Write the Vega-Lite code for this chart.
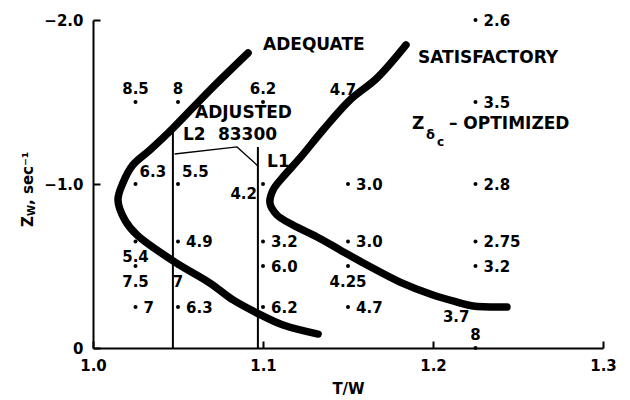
{
  "$schema": "https://vega.github.io/schema/vega-lite/v6.json",
  "width": 510,
  "height": 328,
  "autosize": "none",
  "padding": {"left": 93, "top": 20, "right": 27, "bottom": 52},
  "background": "white",
  "config": {
    "view": {"stroke": null},
    "text": {"font": "DejaVu Sans", "fontWeight": "bold", "color": "black"},
    "axis": {
      "grid": false,
      "domainColor": "black",
      "domainWidth": 2,
      "tickColor": "black",
      "tickWidth": 2,
      "tickSize": -7,
      "labelPadding": 17,
      "labelFlush": false,
      "labelFont": "DejaVu Sans",
      "labelFontWeight": "bold",
      "labelFontSize": 15,
      "labelColor": "black",
      "titleFont": "DejaVu Sans",
      "titleFontWeight": "bold",
      "titleFontSize": 15,
      "titleColor": "black"
    }
  },
  "datasets": {
    "curves": [
      {"c": "A", "o": 1, "x": 1.0912, "y": -1.799},
      {"c": "A", "o": 2, "x": 1.0688, "y": -1.573},
      {"c": "A", "o": 3, "x": 1.0471, "y": -1.341},
      {"c": "A", "o": 4, "x": 1.0335, "y": -1.207},
      {"c": "A", "o": 5, "x": 1.0235, "y": -1.116},
      {"c": "A", "o": 6, "x": 1.0176, "y": -1.006},
      {"c": "A", "o": 7, "x": 1.0147, "y": -0.902},
      {"c": "A", "o": 8, "x": 1.0188, "y": -0.78},
      {"c": "A", "o": 9, "x": 1.0259, "y": -0.689},
      {"c": "A", "o": 10, "x": 1.0482, "y": -0.524},
      {"c": "A", "o": 11, "x": 1.0688, "y": -0.396},
      {"c": "A", "o": 12, "x": 1.0824, "y": -0.293},
      {"c": "A", "o": 13, "x": 1.0965, "y": -0.213},
      {"c": "A", "o": 14, "x": 1.1118, "y": -0.14},
      {"c": "A", "o": 15, "x": 1.1324, "y": -0.085},
      {"c": "S", "o": 1, "x": 1.1841, "y": -1.848},
      {"c": "S", "o": 2, "x": 1.1671, "y": -1.646},
      {"c": "S", "o": 3, "x": 1.1512, "y": -1.512},
      {"c": "S", "o": 4, "x": 1.1353, "y": -1.329},
      {"c": "S", "o": 5, "x": 1.1218, "y": -1.159},
      {"c": "S", "o": 6, "x": 1.1118, "y": -1.043},
      {"c": "S", "o": 7, "x": 1.1059, "y": -0.963},
      {"c": "S", "o": 8, "x": 1.1041, "y": -0.884},
      {"c": "S", "o": 9, "x": 1.1082, "y": -0.811},
      {"c": "S", "o": 10, "x": 1.1176, "y": -0.75},
      {"c": "S", "o": 11, "x": 1.1318, "y": -0.677},
      {"c": "S", "o": 12, "x": 1.1453, "y": -0.598},
      {"c": "S", "o": 13, "x": 1.1612, "y": -0.506},
      {"c": "S", "o": 14, "x": 1.1806, "y": -0.402},
      {"c": "S", "o": 15, "x": 1.2, "y": -0.323},
      {"c": "S", "o": 16, "x": 1.2141, "y": -0.28},
      {"c": "S", "o": 17, "x": 1.2235, "y": -0.256},
      {"c": "S", "o": 18, "x": 1.2435, "y": -0.25}
    ],
    "rules": [
      {"name": "L2", "x": 1.047, "y": 0, "y2": -1.34},
      {"name": "L1", "x": 1.097, "y": 0, "y2": -1.226}
    ],
    "connector": [
      {"o": 1, "x": 1.048, "y": -1.183},
      {"o": 2, "x": 1.0847, "y": -1.226},
      {"o": 3, "x": 1.097, "y": -1.11}
    ],
    "points": [
      {"x": 1.025, "y": -1.5, "label": "8.5", "pos": "above"},
      {"x": 1.05, "y": -1.5, "label": "8", "pos": "above"},
      {"x": 1.1, "y": -1.5, "label": "6.2", "pos": "above"},
      {"x": 1.15, "y": -1.5, "label": "4.7", "pos": "aboveleft"},
      {"x": 1.225, "y": -2.0, "label": "2.6", "pos": "right"},
      {"x": 1.225, "y": -1.5, "label": "3.5", "pos": "right"},
      {"x": 1.025, "y": -1.0, "label": "6.3", "pos": "aboveright"},
      {"x": 1.05, "y": -1.0, "label": "5.5", "pos": "aboveright"},
      {"x": 1.1, "y": -1.0, "label": "4.2", "pos": "belowleft"},
      {"x": 1.15, "y": -1.0, "label": "3.0", "pos": "right"},
      {"x": 1.225, "y": -1.0, "label": "2.8", "pos": "right"},
      {"x": 1.025, "y": -0.65, "label": "5.4", "pos": "below"},
      {"x": 1.05, "y": -0.65, "label": "4.9", "pos": "right"},
      {"x": 1.1, "y": -0.65, "label": "3.2", "pos": "right"},
      {"x": 1.15, "y": -0.65, "label": "3.0", "pos": "right"},
      {"x": 1.225, "y": -0.65, "label": "2.75", "pos": "right"},
      {"x": 1.025, "y": -0.5, "label": "7.5", "pos": "below"},
      {"x": 1.05, "y": -0.5, "label": "7", "pos": "below"},
      {"x": 1.1, "y": -0.5, "label": "6.0", "pos": "right"},
      {"x": 1.15, "y": -0.5, "label": "4.25", "pos": "below"},
      {"x": 1.225, "y": -0.5, "label": "3.2", "pos": "right"},
      {"x": 1.025, "y": -0.25, "label": "7", "pos": "right"},
      {"x": 1.05, "y": -0.25, "label": "6.3", "pos": "right"},
      {"x": 1.1, "y": -0.25, "label": "6.2", "pos": "right"},
      {"x": 1.15, "y": -0.25, "label": "4.7", "pos": "right"},
      {"x": 1.225, "y": -0.25, "label": "3.7", "pos": "belowleft"},
      {"x": 1.225, "y": 0, "label": "8", "pos": "above"}
    ],
    "words": [
      {"x": 1.1, "y": -1.848, "text": "ADEQUATE"},
      {"x": 1.1912, "y": -1.768, "text": "SATISFACTORY"},
      {"x": 1.06, "y": -1.433, "text": "ADJUSTED"},
      {"x": 1.0529, "y": -1.299, "text": "L2"},
      {"x": 1.0735, "y": -1.299, "text": "83300"},
      {"x": 1.1024, "y": -1.134, "text": "L1"}
    ],
    "zlabel": [
      {"x": 1.1876, "y": -1.366, "z": "Z", "d": "δ", "c": "c", "rest": "– OPTIMIZED"}
    ],
    "ytitle": [
      {"x": 0.9618, "y": -0.738, "z": "Z", "w": "W", "rest": ", sec⁻¹"}
    ]
  },
  "encoding": {
    "x": {
      "field": "x",
      "type": "quantitative",
      "scale": {"domain": [1.0, 1.3], "nice": false, "zero": false},
      "axis": {"values": [1.0, 1.1, 1.2, 1.3], "format": ".1f", "title": "T/W", "titlePadding": 8}
    },
    "y": {
      "field": "y",
      "type": "quantitative",
      "scale": {"domain": [0, -2], "nice": false, "zero": false},
      "axis": {
        "values": [0, -1, -2],
        "labelExpr": "datum.value === 0 ? '0' : format(datum.value, '.1f')",
        "title": null
      }
    }
  },
  "layer": [
    {
      "data": {"name": "curves"},
      "mark": {"type": "line", "color": "black", "strokeWidth": 7.5, "strokeCap": "round", "strokeJoin": "round", "interpolate": "catmull-rom"},
      "encoding": {"detail": {"field": "c"}, "order": {"field": "o", "type": "quantitative"}}
    },
    {
      "data": {"name": "rules"},
      "mark": {"type": "rule", "color": "black", "strokeWidth": 2},
      "encoding": {"y2": {"field": "y2"}}
    },
    {
      "data": {"name": "connector"},
      "mark": {"type": "line", "color": "black", "strokeWidth": 1.3},
      "encoding": {"order": {"field": "o", "type": "quantitative"}}
    },
    {
      "data": {"name": "points"},
      "mark": {"type": "circle", "color": "black", "opacity": 1, "size": 16}
    },
    {
      "data": {"name": "points"},
      "transform": [{"filter": "datum.pos === 'right'"}],
      "mark": {"type": "text", "align": "left", "baseline": "middle", "dx": 8, "dy": 1, "fontSize": 15},
      "encoding": {"text": {"field": "label"}}
    },
    {
      "data": {"name": "points"},
      "transform": [{"filter": "datum.pos === 'above'"}],
      "mark": {"type": "text", "align": "center", "baseline": "middle", "dy": -13, "fontSize": 15},
      "encoding": {"text": {"field": "label"}}
    },
    {
      "data": {"name": "points"},
      "transform": [{"filter": "datum.pos === 'aboveleft'"}],
      "mark": {"type": "text", "align": "center", "baseline": "middle", "dx": -5, "dy": -12, "fontSize": 15},
      "encoding": {"text": {"field": "label"}}
    },
    {
      "data": {"name": "points"},
      "transform": [{"filter": "datum.pos === 'aboveright'"}],
      "mark": {"type": "text", "align": "left", "baseline": "middle", "dx": 4, "dy": -12, "fontSize": 15},
      "encoding": {"text": {"field": "label"}}
    },
    {
      "data": {"name": "points"},
      "transform": [{"filter": "datum.pos === 'below'"}],
      "mark": {"type": "text", "align": "center", "baseline": "middle", "dy": 16, "fontSize": 15},
      "encoding": {"text": {"field": "label"}}
    },
    {
      "data": {"name": "points"},
      "transform": [{"filter": "datum.pos === 'belowleft'"}],
      "mark": {"type": "text", "align": "right", "baseline": "middle", "dx": -6, "dy": 10, "fontSize": 15},
      "encoding": {"text": {"field": "label"}}
    },
    {
      "data": {"name": "words"},
      "mark": {"type": "text", "align": "left", "baseline": "middle", "fontSize": 17},
      "encoding": {"text": {"field": "text"}}
    },
    {
      "data": {"name": "zlabel"},
      "mark": {"type": "text", "align": "left", "baseline": "middle", "fontSize": 17},
      "encoding": {"text": {"field": "z"}}
    },
    {
      "data": {"name": "zlabel"},
      "mark": {"type": "text", "align": "left", "baseline": "middle", "fontSize": 13, "dx": 14, "dy": 11},
      "encoding": {"text": {"field": "d"}}
    },
    {
      "data": {"name": "zlabel"},
      "mark": {"type": "text", "align": "left", "baseline": "middle", "fontSize": 12, "dx": 25, "dy": 18},
      "encoding": {"text": {"field": "c"}}
    },
    {
      "data": {"name": "zlabel"},
      "mark": {"type": "text", "align": "left", "baseline": "middle", "fontSize": 17, "dx": 37},
      "encoding": {"text": {"field": "rest"}}
    },
    {
      "data": {"name": "ytitle"},
      "mark": {"type": "text", "align": "left", "baseline": "middle", "fontSize": 15, "angle": 270},
      "encoding": {"text": {"field": "z"}}
    },
    {
      "data": {"name": "ytitle"},
      "mark": {"type": "text", "align": "left", "baseline": "middle", "fontSize": 10, "angle": 270, "dx": 11, "dy": 4},
      "encoding": {"text": {"field": "w"}}
    },
    {
      "data": {"name": "ytitle"},
      "mark": {"type": "text", "align": "left", "baseline": "middle", "fontSize": 15, "angle": 270, "dx": 22},
      "encoding": {"text": {"field": "rest"}}
    }
  ]
}
